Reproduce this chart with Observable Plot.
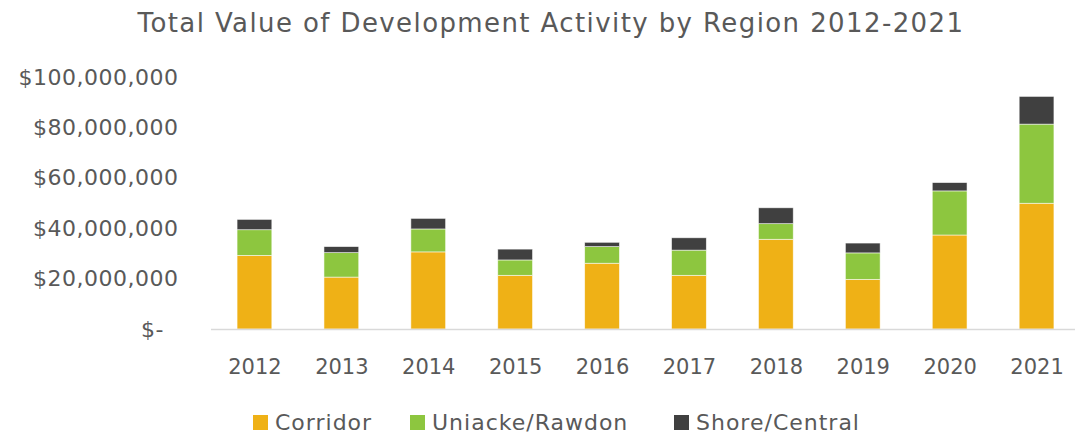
<!DOCTYPE html>
<html>
<head>
<meta charset="utf-8">
<script src="https://cdn.jsdelivr.net/npm/d3@7"></script>
<script src="https://cdn.jsdelivr.net/npm/@observablehq/plot@0.6"></script>
<style>
  html, body { margin: 0; padding: 0; background: #fff; }
  body { width: 1075px; height: 437px; position: relative; overflow: hidden; font-family: "DejaVu Sans", sans-serif; color: #595959; }
  #title { position: absolute; top: 0; left: 0; width: 1102px; height: 50px; line-height: 46px; text-align: center; font-size: 26px; letter-spacing: 1.4px; }
  #chart { position: absolute; top: 50px; left: 0; }
  #legend { position: absolute; top: 409px; left: 0; width: 1075px; height: 26px; font-size: 22px; letter-spacing: 1px; white-space: nowrap; }
  .item { position: absolute; top: 0; display: flex; align-items: center; height: 26px; }
  .sw { width: 15px; height: 15px; margin-right: 7px; }
  #chart svg g[aria-label="y-axis tick label"] text { letter-spacing: 0.5px; }
</style>
</head>
<body>
<div id="title">Total Value of Development Activity by Region 2012-2021</div>
<div id="chart"></div>
<div id="legend"></div>
<script>
const years = ["2012","2013","2014","2015","2016","2017","2018","2019","2020","2021"];
const regions = ["Corridor", "Uniacke/Rawdon", "Shore/Central"];
const colors = ["#EFB116", "#8DC63F", "#404040"];
const corridor = [29.2, 20.6, 30.6, 21.3, 26.1, 21.3, 35.6, 19.7, 37.3, 49.9];
const uniacke  = [10.2,  9.7,  9.1,  6.1,  6.6, 10.0,  6.2, 10.5, 17.5, 31.4];
const shore    = [ 4.1,  2.4,  4.2,  4.3,  1.7,  4.9,  6.3,  3.9,  3.3, 11.0];
const yTicks = [0, 20e6, 40e6, 60e6, 80e6, 100e6];
const legendLeft = [253, 410, 674];

const series = [corridor, uniacke, shore];
const data = [];
regions.forEach((r, i) => years.forEach((y, j) => data.push({year: y, region: r, value: series[i][j] * 1e6})));

const fmt = v => v === 0 ? "$-\u2007" : "$" + d3.format(",")(v);

const chart = Plot.plot({
  width: 1075,
  height: 350,
  marginTop: 27,
  marginBottom: 71,
  marginLeft: 211,
  marginRight: 0,
  style: { fontFamily: "DejaVu Sans, sans-serif", fontSize: "20px", color: "#595959", background: "#fff" },
  x: { domain: years, range: [211, 1080], paddingInner: 0.6, paddingOuter: 0.3, round: false, label: null },
  y: { domain: [0, 100e6], label: null },
  color: { domain: regions, range: colors },
  marks: [
    Plot.axisX({tickSize: 0, tickPadding: 30, fontSize: 21, label: null}),
    Plot.axisY({ticks: yTicks, tickFormat: fmt, tickSize: 0, tickPadding: 33, fontSize: 22, label: null}),
    Plot.barY(data, Plot.stackY({x: "year", y: "value", fill: "region", stroke: "#fff", strokeWidth: 0.75, strokeOpacity: 0.7, order: regions})),
    Plot.ruleY([0], {stroke: "#d9d9d9", strokeWidth: 1.5})
  ]
});
document.getElementById("chart").appendChild(chart);

const legend = document.getElementById("legend");
regions.forEach((r, i) => {
  const it = document.createElement("div");
  it.className = "item";
  it.style.left = legendLeft[i] + "px";
  const sw = document.createElement("div");
  sw.className = "sw";
  sw.style.background = colors[i];
  const t = document.createElement("span");
  t.textContent = r;
  it.appendChild(sw); it.appendChild(t);
  legend.appendChild(it);
});
</script>
</body>
</html>
